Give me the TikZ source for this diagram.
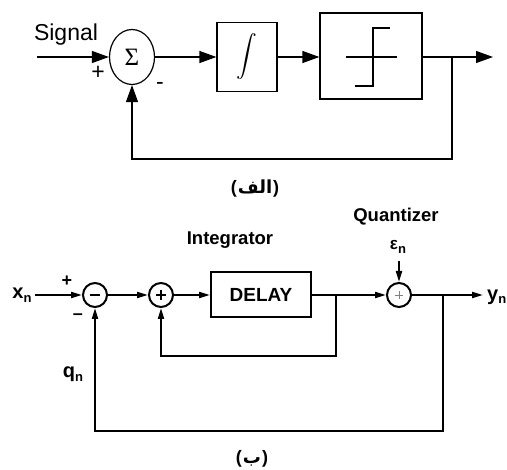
\documentclass[tikz,border=0pt]{standalone}
\usepackage{exscale}
\usepackage{fontspec}
\setmainfont{Liberation Sans}
\newfontfamily\serifsym{Liberation Serif}
\newfontfamily\arabicfont[Script=Arabic]{DejaVu Sans}
\TeXXeTstate=1
\usetikzlibrary{arrows.meta,shapes.geometric}

\newcommand{\subvar}[2]{\textbf{#1}\raisebox{-0.35ex}{\fontsize{13}{13}\selectfont\bfseries #2}}
\newcommand{\arabcap}[1]{\bfseries(\hspace{1pt}{\arabicfont\beginR #1\endR}\hspace{1pt})}

\begin{document}
\begin{tikzpicture}[
   x=1pt,
   y=-1pt,
   thinline/.style={line width=1.2pt},
   thickline/.style={line width=2pt},
   bigtip/.style={-{Triangle[length=17pt,width=12pt]}},
   smalltip/.style={-{Triangle[length=11pt,width=6pt]}},
   topbox/.style={
      draw,
      thinline,
      inner sep=0pt
   },
   botbox/.style={
      draw,
      thickline,
      inner sep=0pt,
      font=\fontsize{19}{19}\selectfont\bfseries
   },
   adder/.style={
      draw,
      circle,
      thickline,
      minimum size=24pt,
      inner sep=0pt
   },
   toplabel/.style={font=\fontsize{23}{23}\selectfont},
   botlabel/.style={font=\fontsize{18.5}{18.5}\selectfont\bfseries},
   caption/.style={font=\fontsize{18}{18}\selectfont}
]

   \useasboundingbox (0,0) rectangle (507,470);

   % ---- (a) ----

   % Summing point
   \node[
      topbox,
      ellipse,
      minimum width=45pt,
      minimum height=55pt
   ] (sig) at (132,57)
   {
      \fontsize{25}{25}\selectfont\serifsym Σ
   };

   \node[toplabel] (signal) at (66,35) {Signal};
   \node[toplabel] (pos) at (98,73) {+};
   \node[toplabel] (neg) at (160,86) {-};

   % Input
   \coordinate (in) at (37,57);
   \draw[thinline,bigtip] (in) -- (sig.west);

   % Integrator
   \node[
      topbox,
      minimum width=60pt,
      minimum height=69pt
   ] (intb) at (247,57)
   {
      \fontsize{20}{20}\selectfont$\displaystyle\int$
   };

   \draw[thinline,bigtip] (sig.east) -- (intb.west);

   % Quantizer
   \node[
      topbox,
      minimum width=102pt,
      minimum height=86pt
   ] (quant) at (371,56)
   {};

   \begin{scope}[shift={(quant.center)}]
      \draw[thinline] (-25,1) -- (26,1);
      \draw[thinline] (-16,30) -- (2,30) -- (2,-28) -- (19,-28);
   \end{scope}

   \draw[thinline,bigtip] (intb.east) -- (intb.east -| quant.west);

   % Output and feedback
   \coordinate (out) at (493,57);
   \coordinate (tap) at (452,57);
   \coordinate (tapbot) at (452,159);

   \draw[thinline,bigtip] (quant.east |- out) -- (out);
   \draw[thinline,bigtip] (tap) -- (tapbot) -| (sig.south);

   \node[caption] (capa) at (255,189) {\arabcap{الف}};

   % ---- (b) ----

   \node[botlabel] (intlabel) at (230,240) {Integrator};
   \node[botlabel] (qlabel) at (396,217) {Quantizer};

   % Adders
   \node[adder] (minus) at (95,295) {};
   \node[adder] (plus) at (161,295) {};
   \node[adder] (qsum) at (399,295) {};

   \draw[thickline] ([xshift=-5pt]minus.center) -- ([xshift=5pt]minus.center);
   \draw[line width=1.4pt] ([xshift=-5pt]plus.center) -- ([xshift=5pt]plus.center);
   \draw[line width=1.4pt] ([yshift=-5pt]plus.center) -- ([yshift=5pt]plus.center);
   \draw[line width=0.8pt,gray] ([xshift=-4pt]qsum.center) -- ([xshift=4pt]qsum.center);
   \draw[line width=0.8pt,gray] ([yshift=-4pt]qsum.center) -- ([yshift=4pt]qsum.center);

   % Delay
   \node[
      botbox,
      minimum width=100pt,
      minimum height=45pt
   ] (delay) at (261,295)
   {
      DELAY
   };

   % Signal labels
   \node[font=\fontsize{20}{20}\selectfont] (xn) at (22,295) {\subvar{x}{n}};
   \node[font=\fontsize{18}{18}\selectfont\bfseries] (bpos) at (67,281) {+};
   \node[font=\fontsize{18}{18}\selectfont\bfseries] (bneg) at (78,317) {--};
   \node[font=\fontsize{20}{20}\selectfont] (qn) at (73,374) {\subvar{q}{n}};
   \node[font=\fontsize{17}{17}\selectfont] (eps) at (398,247) {\subvar{ε}{n}};
   \node[
      font=\fontsize{20}{20}\selectfont,
      anchor=west,
      inner sep=0pt
   ] (yn) at (487,297) {\subvar{y}{n}};

   % Forward path
   \coordinate (xin) at (35,295);
   \coordinate (yout) at (483,295);
   \coordinate (epsin) at (399,261);

   \draw[thickline,smalltip] (xin) -- (minus.west);
   \draw[thickline,smalltip] (minus.east) -- (plus.west);
   \draw[thickline,smalltip] (plus.east) -- (delay.west);
   \draw[thickline,smalltip] (delay.east) -- (qsum.west);
   \draw[thickline,smalltip] (qsum.east) -- (yout);
   \draw[thickline,smalltip] (epsin) -- (qsum.north);

   % Feedback loops
   \coordinate (tapi) at (336,295);
   \coordinate (inbot) at (336,356);
   \coordinate (tapo) at (443,295);
   \coordinate (outbot) at (443,431);

   \draw[thickline,smalltip] (tapi) -- (inbot) -| (plus.south);
   \draw[thickline,smalltip] (tapo) -- (outbot) -| (minus.south);

   \node[caption] (capb) at (252,459) {\arabcap{ب}};

\end{tikzpicture}
\end{document}
